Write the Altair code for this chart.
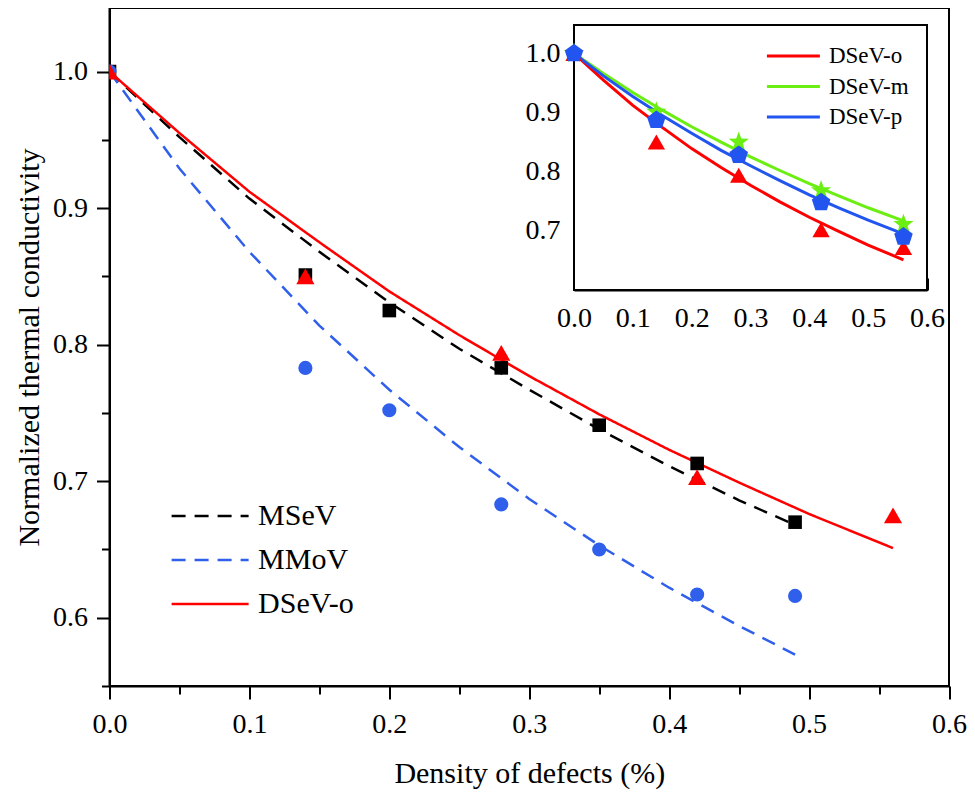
import altair as alt
import pandas as pd

FONT = "Liberation Serif"
RED = "#FF0000"
BLUE_MAIN = "#2F5FEB"
BLUE_INSET = "#2255F0"
GREEN = "#6BEE12"

# ---------------- main panel data ----------------
curve_x_m = [0.0, 0.05, 0.10, 0.15, 0.20, 0.25, 0.30, 0.35, 0.40, 0.45, 0.49]
msev_curve = [1.0, 0.952, 0.907, 0.868, 0.831, 0.797, 0.767, 0.738, 0.711, 0.686, 0.668]
mmov_curve = [1.0, 0.929, 0.868, 0.814, 0.767, 0.725, 0.687, 0.653, 0.622, 0.594, 0.573]
curve_x_d = [0.0, 0.05, 0.10, 0.15, 0.20, 0.25, 0.30, 0.35, 0.40, 0.45, 0.50, 0.56]
dsev_o_curve = [1.0, 0.955, 0.912, 0.875, 0.839, 0.807, 0.777, 0.749, 0.723, 0.699, 0.676, 0.651]

pts_x_m = [0.0, 0.14, 0.20, 0.28, 0.35, 0.42, 0.49]
msev_pts = [1.0, 0.851, 0.825, 0.783, 0.741, 0.713, 0.670]
mmov_pts = [1.0, 0.783, 0.752, 0.683, 0.650, 0.617, 0.616]
pts_x_d = [0.0, 0.14, 0.28, 0.42, 0.56]
dsev_o_pts = [1.0, 0.850, 0.794, 0.703, 0.675]

# ---------------- inset data ----------------
dsev_m_curve = [1.0, 0.966, 0.934, 0.904, 0.876, 0.850, 0.825, 0.802, 0.780, 0.759, 0.739, 0.717]
dsev_p_curve = [1.0, 0.962, 0.927, 0.895, 0.865, 0.836, 0.810, 0.785, 0.761, 0.739, 0.718, 0.695]
inset_o_pts = [1.0, 0.850, 0.794, 0.702, 0.672]
inset_m_pts = [1.0, 0.901, 0.850, 0.768, 0.711]
inset_p_pts = [1.0, 0.887, 0.828, 0.748, 0.690]

main_series = ["MSeV", "MMoV", "DSeV-o"]
inset_series = ["DSeV-o", "DSeV-m", "DSeV-p"]
x_ticks = [0.0, 0.05, 0.1, 0.15, 0.2, 0.25, 0.3, 0.35, 0.4, 0.45, 0.5, 0.55, 0.6]
y_ticks_main = [0.55, 0.6, 0.65, 0.7, 0.75, 0.8, 0.85, 0.9, 0.95, 1.0]
y_ticks_inset = [0.65, 0.7, 0.75, 0.8, 0.85, 0.9, 0.95, 1.0]

# ---------------- geometry ----------------
LEFT = 101.5
W, H = 839.5, 678
X_DOM = [0.0, 0.6]
Y_DOM = [0.55, 1.0466]
IX_RANGE = [464.5, 817.5]
IY_RANGE = [282, 17]
IY_DOM = [0.6, 1.048]

# ---------------- frames ----------------
main_lines = pd.DataFrame(
    [{"x": x, "y": y, "series": "MSeV"} for x, y in zip(curve_x_m, msev_curve)]
    + [{"x": x, "y": y, "series": "MMoV"} for x, y in zip(curve_x_m, mmov_curve)]
    + [{"x": x, "y": y, "series": "DSeV-o"} for x, y in zip(curve_x_d, dsev_o_curve)]
)
sq_df = pd.DataFrame({"x": pts_x_m, "y": msev_pts})
ci_df = pd.DataFrame({"x": pts_x_m, "y": mmov_pts})
tr_df = pd.DataFrame({"x": pts_x_d, "y": dsev_o_pts})

inset_lines = pd.DataFrame(
    [{"x": x, "y": y, "iseries": "DSeV-o"} for x, y in zip(curve_x_d, dsev_o_curve)]
    + [{"x": x, "y": y, "iseries": "DSeV-m"} for x, y in zip(curve_x_d, dsev_m_curve)]
    + [{"x": x, "y": y, "iseries": "DSeV-p"} for x, y in zip(curve_x_d, dsev_p_curve)]
)
itr_df = pd.DataFrame({"x": pts_x_d, "y": inset_o_pts})
ist_df = pd.DataFrame({"x": pts_x_d, "y": inset_m_pts})
ipe_df = pd.DataFrame({"x": pts_x_d, "y": inset_p_pts})
frame_df = pd.DataFrame({"x": [X_DOM[0]], "x2": [X_DOM[1]], "y": [IY_DOM[0]], "y2": [IY_DOM[1]]})

STAR = ("M0,-1L0.24,-0.33L0.951,-0.309L0.39,0.127L0.588,0.809L0,0.41"
        "L-0.588,0.809L-0.39,0.127L-0.951,-0.309L-0.24,-0.33Z")
PENT = "M0,-1L0.951,-0.309L0.588,0.809L-0.588,0.809L-0.951,-0.309Z"
LEGEND_LINE = "M-2.5,0L2.5,0"

IS_MAJOR = "abs(datum.value*10 - round(datum.value*10)) < 0.001"
LABEL_EXPR = IS_MAJOR + " ? format(datum.value, '.1f') : ''"

common_axis = dict(grid=False, domainColor="black", tickColor="black",
                   labelColor="black", titleColor="black", labelFlush=False, labelOverlap=False,
                   labelFont=FONT, titleFont=FONT, titleFontWeight="normal",
                   tickWidth=2, domainWidth=2, labelExpr=LABEL_EXPR)

def tick_size(major, minor):
    return {"condition": {"test": IS_MAJOR, "value": major}, "value": minor}

# ---------------- main panel ----------------
mx = alt.Scale(domain=X_DOM, nice=False, zero=False)
my = alt.Scale(domain=Y_DOM, nice=False, zero=False)

main_x_axis = alt.Axis(orient="bottom", values=x_ticks, tickSize=tick_size(13, 8),
                       labelFontSize=28, labelPadding=11,
                       title="Density of defects (%)", titleFontSize=30, titlePadding=20,
                       **common_axis)
main_y_axis = alt.Axis(orient="left", values=y_ticks_main, tickSize=tick_size(13, 8),
                       labelFontSize=28, labelPadding=9,
                       title="Normalized thermal conductivity", titleFontSize=30, titlePadding=8,
                       **common_axis)

legend_main = alt.Legend(title=None, orient="none", legendX=83.6, legendY=491,
                         symbolType=LEGEND_LINE, symbolSize=949, symbolStrokeWidth=2.5,
                         labelFont=FONT, labelFontSize=30, labelColor="black",
                         rowPadding=12, labelOffset=31, padding=0, labelLimit=400)

lines = alt.Chart(main_lines).mark_line(strokeWidth=2.5, clip=True).encode(
    x=alt.X("x:Q", scale=mx, axis=main_x_axis),
    y=alt.Y("y:Q", scale=my, axis=main_y_axis),
    color=alt.Color("series:N", scale=alt.Scale(domain=main_series, range=["black", BLUE_MAIN, RED]),
                    legend=legend_main, sort=main_series),
    strokeDash=alt.StrokeDash("series:N", scale=alt.Scale(domain=main_series, range=[[14, 9], [14, 9], [1, 0]]),
                              legend=legend_main, sort=main_series),
)
squares = alt.Chart(sq_df).mark_point(shape="square", filled=True, size=185, color="black",
                                      opacity=1, clip=True).encode(x="x:Q", y="y:Q")
circles = alt.Chart(ci_df).mark_point(shape="circle", filled=True, size=200, color=BLUE_MAIN,
                                      opacity=1, clip=True).encode(x="x:Q", y="y:Q")
tris = alt.Chart(tr_df).mark_point(shape="triangle-up", filled=True, size=330, color=RED,
                                   opacity=1, clip=True).encode(x="x:Q", y="y:Q")
main = alt.layer(lines, squares, circles, tris)

# ---------------- inset ----------------
ix = alt.Scale(domain=X_DOM, range=IX_RANGE, nice=False, zero=False)
iy = alt.Scale(domain=IY_DOM, range=IY_RANGE, nice=False, zero=False)

# ticks point inward: top-oriented axis placed on the inset's bottom edge, labels pushed below
inset_x_axis = alt.Axis(orient="top", offset=-IY_RANGE[0], values=x_ticks, tickSize=tick_size(12, 6),
                        labelFontSize=28, labelPadding=-26, labelBaseline="top",
                        title=None, **common_axis)
# right-oriented axis placed on the inset's left edge, labels pushed to the left
inset_y_axis = alt.Axis(orient="right", offset=IX_RANGE[0] - W, values=y_ticks_inset,
                        tickSize=tick_size(12, 6),
                        labelFontSize=28, labelPadding=-26, labelAlign="right",
                        title=None, **common_axis)

legend_inset = alt.Legend(title=None, orient="none", legendX=671.4, legendY=35.5,
                          symbolType=LEGEND_LINE, symbolSize=449, symbolStrokeWidth=3,
                          labelFont=FONT, labelFontSize=23, labelColor="black",
                          rowPadding=5.5, labelOffset=23, padding=0, labelLimit=400)

frame = alt.Chart(frame_df).mark_rect(fill="white", stroke="black", strokeWidth=2).encode(
    x=alt.X("x:Q", scale=ix, axis=inset_x_axis),
    x2="x2",
    y=alt.Y("y:Q", scale=iy, axis=inset_y_axis),
    y2="y2",
)
ilines = alt.Chart(inset_lines).mark_line(strokeWidth=3).encode(
    x=alt.X("x:Q"), y=alt.Y("y:Q"),
    color=alt.Color("iseries:N", scale=alt.Scale(domain=inset_series, range=[RED, GREEN, BLUE_INSET]),
                    legend=legend_inset, sort=inset_series),
)
itris = alt.Chart(itr_df).mark_point(shape="triangle-up", filled=True, size=300, color=RED,
                                     opacity=1).encode(x="x:Q", y="y:Q")
istars = alt.Chart(ist_df).mark_point(shape=STAR, filled=True, size=450, color=GREEN,
                                      opacity=1).encode(x="x:Q", y="y:Q")
ipents = alt.Chart(ipe_df).mark_point(shape=PENT, filled=True, size=380, color=BLUE_INSET,
                                      opacity=1).encode(x="x:Q", y="y:Q")
inset = alt.layer(frame, ilines, itris, istars, ipents)

chart = alt.layer(main, inset).resolve_scale(
    x="independent", y="independent", color="independent", strokeDash="independent"
).properties(
    width=W, height=H,
    autosize=alt.AutoSizeParams(type="none"),
    padding={"left": LEFT, "top": 0, "right": 18, "bottom": 105},
    background="white",
).configure_view(stroke="black", strokeWidth=2)

chart.save("out.html", embed_options={"renderer": "svg", "actions": False})
